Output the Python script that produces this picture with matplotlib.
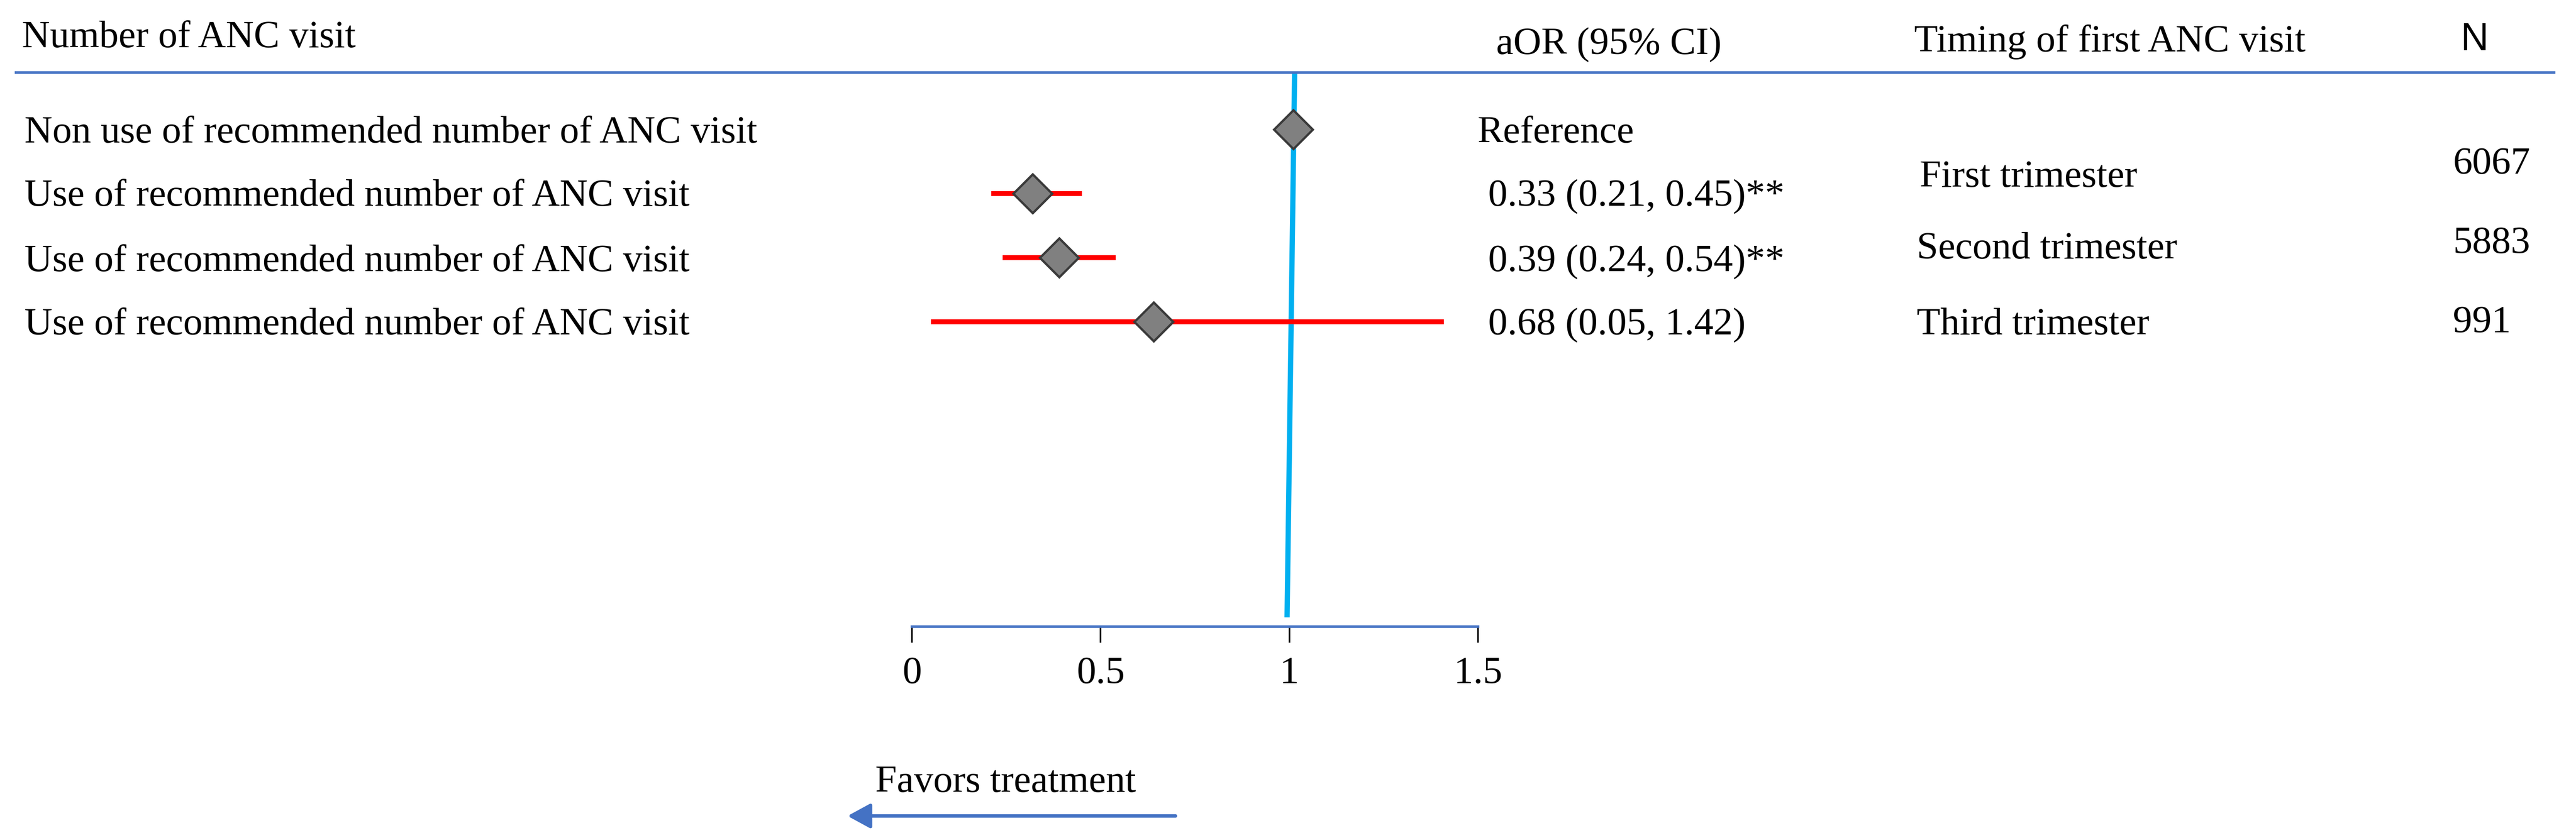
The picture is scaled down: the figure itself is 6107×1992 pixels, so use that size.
import numpy as np
import matplotlib.pyplot as plt
from matplotlib.lines import Line2D
from matplotlib.patches import FancyArrowPatch

# data
row_labels = ['Non use of recommended number of ANC visit',
              'Use of recommended number of ANC visit',
              'Use of recommended number of ANC visit',
              'Use of recommended number of ANC visit']
aor = [1.01, 0.32, 0.39, 0.64]
ci_low = [np.nan, 0.21, 0.24, 0.05]
ci_high = [np.nan, 0.45, 0.54, 1.41]
aor_text = ['Reference', '0.33 (0.21, 0.45)**', '0.39 (0.24, 0.54)**', '0.68 (0.05, 1.42)']
timing = ['First trimester', 'Second trimester', 'Third trimester']
n_obs = ['6067', '5883', '991']
xticks = [0, 0.5, 1, 1.5]
xticklabels = ['0', '0.5', '1', '1.5']

W, H = 6107, 1992
DPI = 300
SERIF = 'Liberation Serif'
FS = 22
plt.rcParams['font.family'] = [SERIF, 'DejaVu Serif']

def fx(x):
    return x / W

def fy(y):
    return 1 - y / H

fig = plt.figure(figsize=(W / DPI, H / DPI), dpi=DPI)

# forest axes: x 0..1.5 spans px 2162..3504, y from header line to axis line
top_px, bot_px = 172, 1486
row0, step = 307, 152
ax = fig.add_axes([fx(2162), fy(bot_px), (3504 - 2162) / W, (bot_px - top_px) / H])
ax.set_xlim(0, 1.5)
ymax = (bot_px - row0) / step
ymin = (top_px - row0) / step
ax.set_ylim(ymax, ymin)
ys = np.arange(len(aor))

# reference line (slightly slanted like the original)
ax.plot([1.014, 0.994], [ymin, (1464 - row0) / step], color='#00B0F0', lw=3,
        solid_capstyle='butt', clip_on=False, zorder=1)

for i in range(len(aor)):
    if not np.isnan(ci_low[i]):
        ax.plot([ci_low[i], ci_high[i]], [ys[i], ys[i]], color='#FF0000', lw=2.8,
                solid_capstyle='butt', zorder=2)
ax.plot(aor, ys, linestyle='none', marker='D', markersize=15.5,
        markerfacecolor='#808080', markeredgecolor='#3a3a3a', markeredgewidth=1.3,
        zorder=3, clip_on=False)

for s in ['top', 'left', 'right']:
    ax.spines[s].set_visible(False)
ax.spines['bottom'].set_color('#4472C4')
ax.spines['bottom'].set_linewidth(1.5)
ax.set_yticks([])
ax.set_xticks(xticks)
ax.set_xticklabels(xticklabels, fontfamily=SERIF, fontsize=FS)
ax.tick_params(axis='x', direction='out', length=9, width=0.9, color='black', pad=8)
ax.patch.set_alpha(0)

# header
fig.text(fx(52), fy(112), 'Number of ANC visit', fontfamily=SERIF, fontsize=FS, va='baseline')
fig.text(fx(3547), fy(128), 'aOR (95% CI)', fontfamily=SERIF, fontsize=FS, va='baseline')
fig.text(fx(4538), fy(122), 'Timing of first ANC visit', fontfamily=SERIF, fontsize=FS, va='baseline')
fig.text(fx(5867), fy(119), 'N', fontfamily='Liberation Sans', fontsize=FS, va='baseline', ha='center')
fig.add_artist(Line2D([fx(38), fx(6055)], [fy(172), fy(172)], color='#4472C4', lw=1.5,
                      transform=fig.transFigure))

# row labels and estimate text
label_base = [338, 488, 643, 793]
for i, lab in enumerate(row_labels):
    fig.text(fx(58), fy(label_base[i]), lab, fontfamily=SERIF, fontsize=FS, va='baseline')
aor_x = [3502, 3528, 3528, 3528]
for i, t in enumerate(aor_text):
    fig.text(fx(aor_x[i]), fy(label_base[i]), t, fontfamily=SERIF, fontsize=FS, va='baseline')

timing_base = [443, 613, 793]
timing_x = [4551, 4544, 4544]
for i, t in enumerate(timing):
    fig.text(fx(timing_x[i]), fy(timing_base[i]), t, fontfamily=SERIF, fontsize=FS, va='baseline')
n_base = [412, 600, 788]
for i, t in enumerate(n_obs):
    fig.text(fx(5815), fy(n_base[i]), t, fontfamily=SERIF, fontsize=FS, va='baseline')

# favors treatment
fig.text(fx(2075), fy(1878), 'Favors treatment', fontfamily=SERIF, fontsize=FS, va='baseline')
fig.add_artist(FancyArrowPatch(
    (fx(2795), fy(1935)), (fx(2001), fy(1935)), transform=fig.transFigure,
    arrowstyle='-|>,head_length=0.55,head_width=0.3', mutation_scale=20,
    color='#4472C4', lw=2.0))

fig.savefig('out.png', dpi=DPI)
